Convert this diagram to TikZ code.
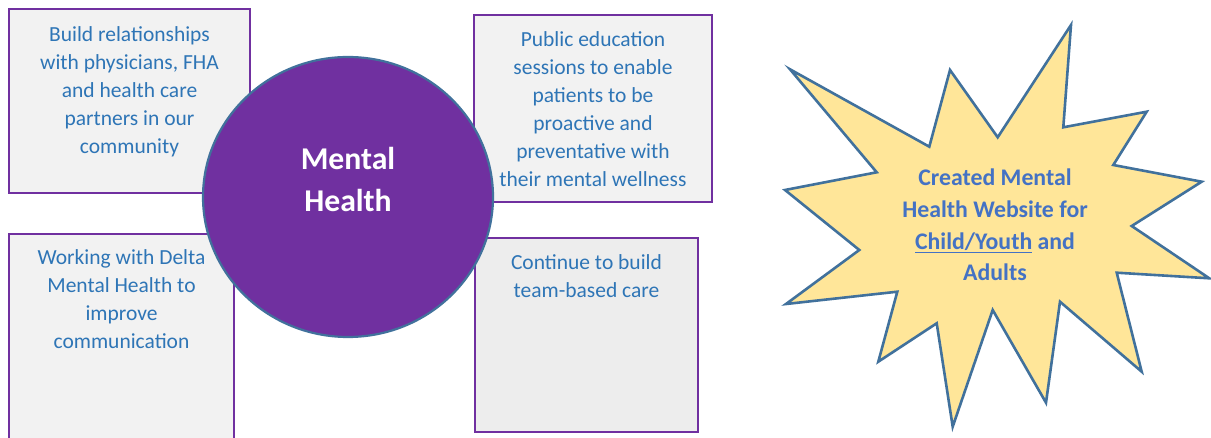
\documentclass[tikz,border=0pt]{standalone}
\usepackage{fontspec}
\setmainfont{Carlito}
\definecolor{mhpurple}{HTML}{7030A0}
\definecolor{mhblue}{HTML}{41719C}
\definecolor{txtblue}{HTML}{2E75B6}
\definecolor{startxt}{HTML}{4472C4}
\definecolor{boxfill}{HTML}{F2F2F2}
\definecolor{boxfilltwo}{HTML}{EDEDED}
\definecolor{starfill}{HTML}{FFE699}
\begin{document}
\begin{tikzpicture}[x=1pt,y=-1pt,
  infobox/.style={draw=mhpurple,line width=2.4pt,fill=boxfill},
  boxtext/.style={anchor=north,align=center,inner sep=0pt,text=txtblue,
    font=\fontsize{21.5}{28}\selectfont},
  hub/.style={draw=mhblue,line width=2.2pt,fill=mhpurple},
  burst/.style={draw=mhblue,line width=2.6pt,fill=starfill,line join=miter},
  hubtext/.style={align=center,inner sep=0pt,text=white,anchor=north,
    font=\fontsize{31.7}{42}\selectfont\bfseries},
  bursttext/.style={align=center,inner sep=0pt,text=startxt,anchor=north,
    font=\fontsize{23.8}{31.7}\selectfont\bfseries}]
\useasboundingbox (0,0) rectangle (1211,438);
% boxes
\path[infobox] (9,9) rectangle (250,193);
\path[infobox] (474,15) rectangle (712,202);
\path[infobox] (9,234) rectangle (234,445);
\path[infobox,fill=boxfilltwo] (475,238) rectangle (698,432);
% hub
\path[hub] (348,197) ellipse [x radius=145,y radius=140];
% texts
\node[boxtext] (t1) at (129.5,21.4) {\strut Build relationships\\with physicians, FHA\\and health care\\partners in our\\community};
\node[boxtext] (t2) at (593,27) {\strut Public education\\sessions to enable\\patients to be\\proactive and\\preventative with\\their mental wellness};
\node[boxtext] (t3) at (121.5,244.7) {\strut Working with Delta\\Mental Health to\\improve\\communication};
\node[boxtext] (t4) at (586.5,249.7) {\strut Continue to build\\team-based care};
\node[hubtext] (hubt) at (348,139.6) {\strut Mental\\Health};
% star
\path[burst] (790,69.3) -- (929.3,146.7) -- (950,70) -- (997.7,137.3) -- (1071,25)
  -- (1063.3,127.3) -- (1146.7,111.7) -- (1113.3,165) -- (1201.7,181.7)
  -- (1131.7,226) -- (1209.3,278.3) -- (1116.7,272.7) -- (1141.7,371.7)
  -- (1060,301.7) -- (1046,402.7) -- (992.7,310) -- (952.7,426.7)
  -- (936.7,323.3) -- (878.3,361.7) -- (897.3,291.7) -- (786,304)
  -- (859.3,250) -- (785,190) -- (876.7,172.3) -- cycle;
\node[bursttext] (st) at (995,163.5) {\strut Created Mental\\Health Website for\\\underline{Child/Youth} and\\Adults};
\end{tikzpicture}
\end{document}
